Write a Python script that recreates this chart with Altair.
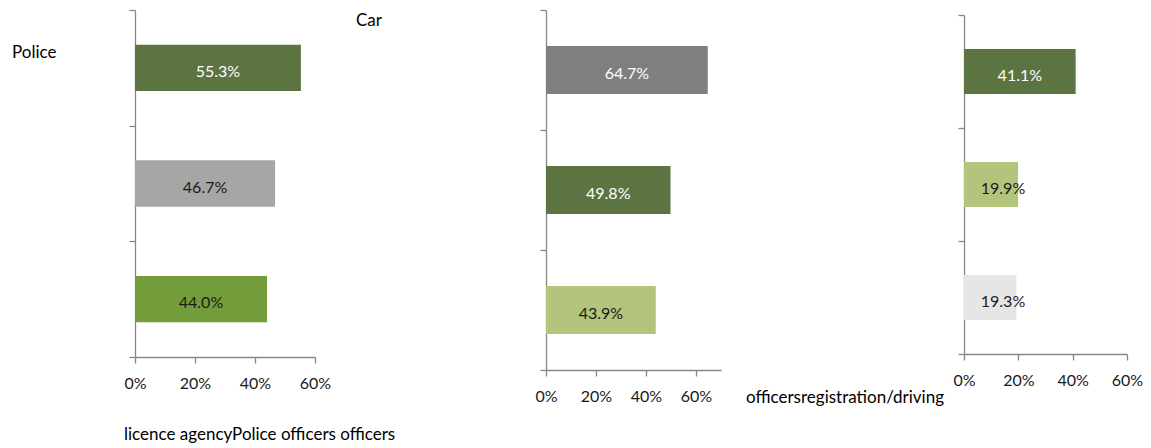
import altair as alt
import pandas as pd

# ---- data ----
rows = ["Row 1", "Row 2", "Row 3"]

panel1_values = [55.3, 46.7, 44.0]
panel2_values = [64.7, 49.8, 43.9]
panel3_values = [41.1, 19.9, 19.3]

panel1_series = ["S1", "S2", "S3"]
panel2_series = ["S4", "S1", "S5"]
panel3_series = ["S1", "S5", "S6"]

tick_values = [0, 20, 40, 60]

series_names = ["S1", "S2", "S3", "S4", "S5", "S6"]
series_colors = ["#5B7442", "#A6A6A6", "#739D3A", "#7F7F7F", "#B3C47D", "#E6E6E6"]
light_text_series = ["S1", "S4"]

FONT = "Lato"
AXIS_COLOR = "#878787"

color_scale = alt.Scale(domain=series_names, range=series_colors)


def panel(values, series, width, height, x_domain, x_range, y_range, min_label_px, notes):
    df = pd.DataFrame({"row": rows, "value": values, "series": series})
    px_per_unit = (x_range[1] - x_range[0]) / (x_domain[1] - x_domain[0])
    min_mid = min_label_px / px_per_unit
    xscale = alt.Scale(domain=x_domain, range=x_range, nice=False, zero=True)
    yscale = alt.Scale(domain=rows, range=y_range, paddingInner=0, paddingOuter=0)
    x_axis = alt.Axis(
        values=tick_values,
        labelExpr="datum.value + '%'",
        title=None,
        grid=False,
        tickSize=6,
        labelPadding=12,
        labelFlush=False,
        labelOverlap=False,
        labelBound=False,
    )
    y_axis = alt.Axis(labels=False, title=None, tickBand="extent", tickSize=6, grid=False)

    base = alt.Chart(df).transform_calculate(
        label="format(datum.value, '.1f') + '%'",
        mid=f"max(datum.value / 2, {min_mid})",
    )

    bars = base.mark_bar(height={"band": 0.4}).encode(
        x=alt.X("value:Q", scale=xscale, axis=x_axis),
        y=alt.Y("row:N", sort=rows, scale=yscale, axis=y_axis),
        color=alt.Color("series:N", scale=color_scale, legend=None),
    )

    text = base.mark_text(
        align="center", baseline="middle", dy=4, font=FONT, fontSize=16
    ).encode(
        x=alt.X("mid:Q", scale=xscale, axis=x_axis),
        y=alt.Y("row:N", sort=rows, scale=yscale, axis=y_axis),
        text="label:N",
        color=alt.condition(
            alt.FieldOneOfPredicate(field="series", oneOf=light_text_series),
            alt.value("white"),
            alt.value("#1a1a1a"),
        ),
    )

    layers = [bars, text]
    for note, px, py in notes:
        layers.append(
            alt.Chart(pd.DataFrame({"t": [note]}))
            .mark_text(align="left", baseline="middle", font=FONT, fontSize=17, color="black")
            .encode(x=alt.value(px), y=alt.value(py), text="t:N")
        )
    return alt.layer(*layers).properties(width=width, height=height)


p1 = panel(
    panel1_values, panel1_series, 180, 347, [0, 60], [0, 180], [0, 347], 39,
    [("Police", -123, 43), ("Car", 221, 11), ("licence agencyPolice officers officers", -11, 425)],
)
p2 = panel(
    panel2_values, panel2_series, 187, 360, [0, 70], [0, 175], [0, 360], 39,
    [("officersregistration/driving", 200, 388)],
)
p3 = panel(
    panel3_values, panel3_series, 163, 344, [0, 60], [0, 163], [5, 344], 39, [],
)

chart = (
    alt.hconcat(p1, p2, p3, spacing=231, bounds="flush")
    .properties(padding={"left": 4, "top": 1, "right": 0, "bottom": 0})
    .configure_view(stroke=None)
    .configure_axis(
        domainColor=AXIS_COLOR,
        tickColor=AXIS_COLOR,
        domainWidth=1.3,
        tickWidth=1.3,
        labelFont=FONT,
        labelFontSize=16,
        labelColor="#1a1a1a",
    )
)

chart.save("out.html", embed_options={"renderer": "svg", "actions": False})
